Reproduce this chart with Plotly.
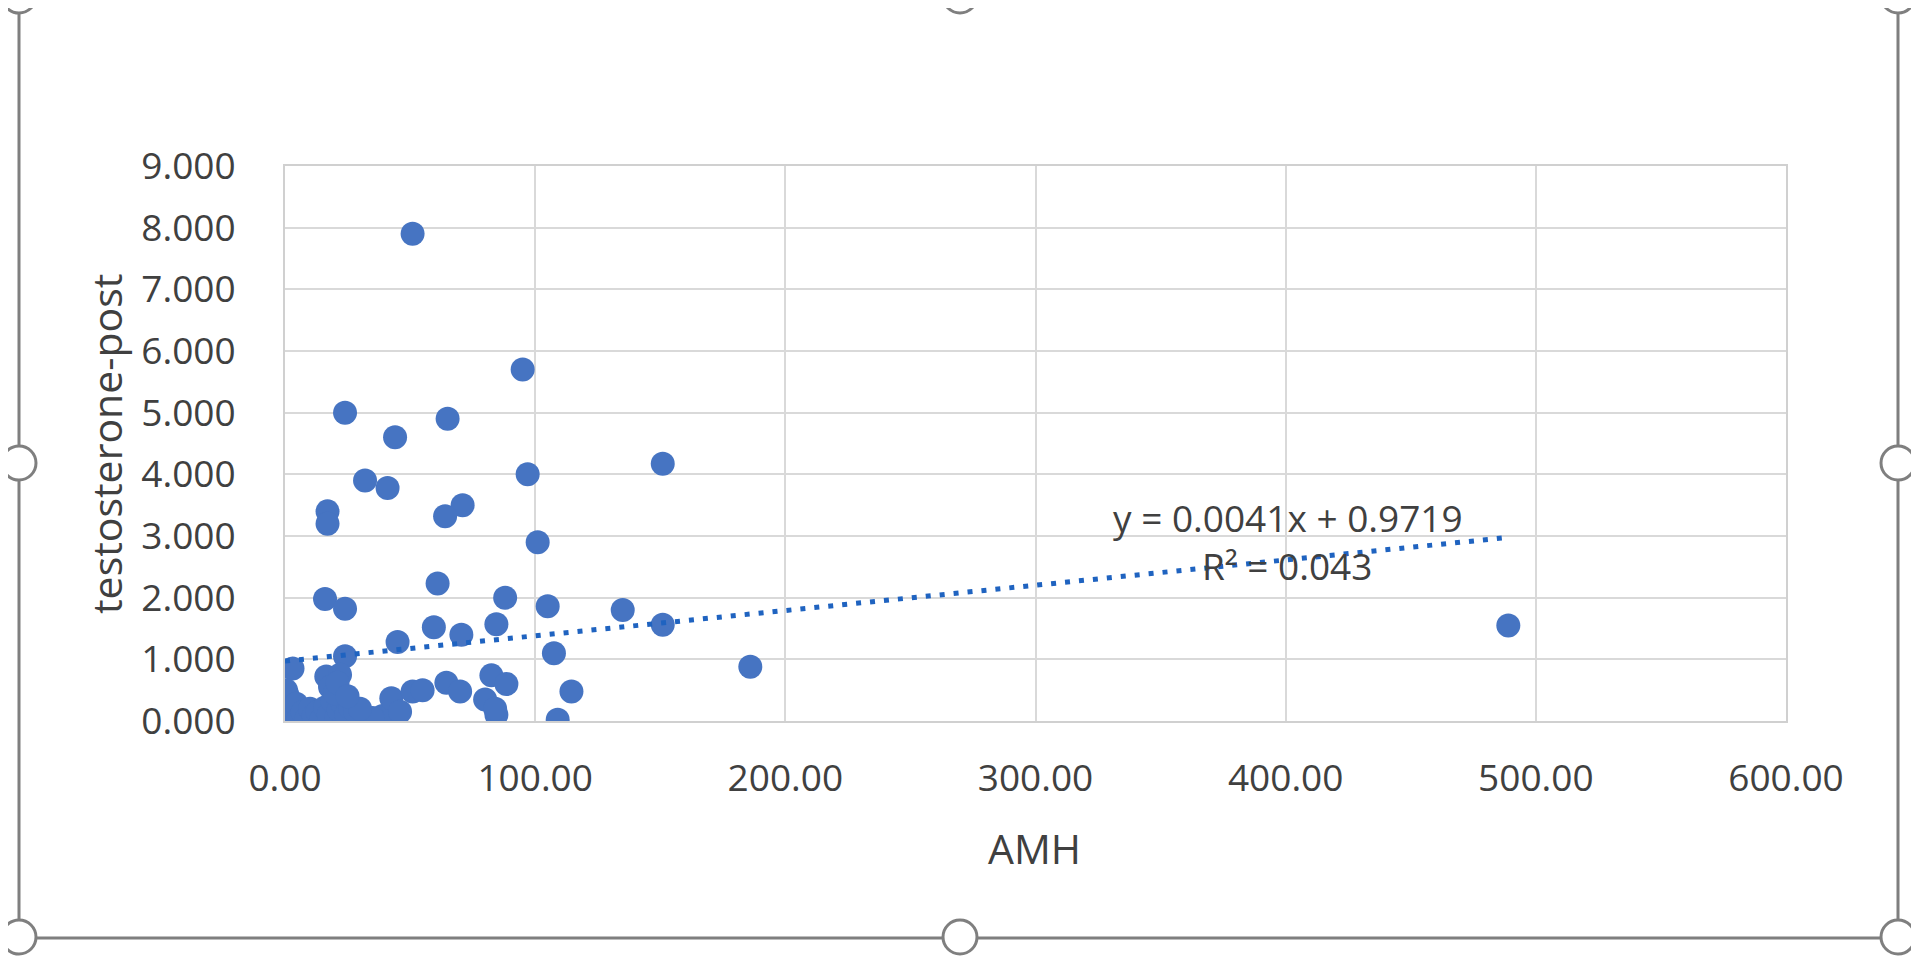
import plotly.graph_objects as go

# AMH vs testosterone-post
amh = [51, 95, 24, 65, 44, 151, 97, 32, 41, 71, 17, 17, 64, 101, 61, 16, 88, 24, 105, 135,
       59.5, 70.5, 84.5, 151, 489, 45, 107.5, 186, 3, 24, 16.5, 114.5, 109, 64.5, 70, 82.5,
       88.5, 80, 84.5, 84, 39, 42.5, 46, 51, 55, 35,
       0.5, 0.5, 0.8, 0.6, 1.0, 0.4, 1.5, 2.5, 3.5, 4.5, 5.5, 7, 8.5, 10, 11.5, 13, 14.5, 16,
       17.5, 19, 20.5, 21.5, 23, 24.5, 26, 28, 30, 18, 20, 22, 21, 25]
testosterone_post = [7.9, 5.7, 5.0, 4.9, 4.6, 4.17, 4.0, 3.9, 3.78, 3.5, 3.4, 3.2, 3.32, 2.9, 2.23, 1.98,
                     2.0, 1.82, 1.86, 1.8, 1.52, 1.4, 1.57, 1.56, 1.55, 1.28, 1.1, 0.88, 0.85, 1.05,
                     0.72, 0.48, 0.02, 0.62, 0.48, 0.74, 0.6, 0.35, 0.1, 0.2, 0.08, 0.37, 0.15, 0.48,
                     0.5, 0.05,
                     0.02, 0.12, 0.22, 0.32, 0.42, 0.5, 0.05, 0.18, 0.08, 0.28, 0.04, 0.14, 0.03, 0.2,
                     0.08, 0.15, 0.02, 0.22, 0.1, 0.32, 0.05, 0.18, 0.28, 0.1, 0.22, 0.16, 0.2, 0.55,
                     0.45, 0.75, 0.62, 0.4]

trend_slope = 0.0041
trend_intercept = 0.9719
r_squared = 0.043

x_ticks = [0, 100, 200, 300, 400, 500, 600]
y_ticks = [0, 1, 2, 3, 4, 5, 6, 7, 8, 9]

# page pixels of the plot area (the page body adds an 8px margin)
BODY = 8
W, H = 1919 - BODY, 958 - BODY
PL, PR, PT, PB = 285, 1786, 166, 721


def px(x):
    return (x - PL) / (PR - PL)


def py(y):
    return (PB - y) / (PB - PT)


trend_x = [0, max(amh)]
trend_y = [trend_slope * v + trend_intercept for v in trend_x]

fig = go.Figure()
fig.add_trace(go.Scatter(
    x=amh, y=testosterone_post, mode='markers',
    marker=dict(size=24, color='#4674C2'),
    showlegend=False, hoverinfo='x+y'
))
fig.add_trace(go.Scatter(
    x=trend_x, y=trend_y, mode='lines',
    line=dict(color='#1F63C0', width=5, dash='5px,9px'),
    showlegend=False, hoverinfo='skip'
))

font_fam = 'Open Sans, Noto Sans, sans-serif'
txt = '#404040'

fig.update_xaxes(
    range=[0, 600], tickvals=x_ticks, tickformat='.2f',
    showgrid=True, gridcolor='#d9d9d9', gridwidth=2,
    showline=True, linecolor='#d0d0d0', linewidth=2, mirror=True,
    zeroline=False, ticks='', ticklabelstandoff=24,
    tickfont=dict(size=37, color=txt, family=font_fam),
)
fig.update_yaxes(
    range=[0, 9], tickvals=y_ticks, tickformat='.3f',
    showgrid=True, gridcolor='#d9d9d9', gridwidth=2,
    showline=True, linecolor='#d0d0d0', linewidth=2, mirror=True,
    zeroline=False, ticks='', ticklabelstandoff=40,
    tickfont=dict(size=37, color=txt, family=font_fam),
)


def label(text, x, y, angle=0, size=37):
    return dict(text=text, x=px(x), y=py(y), xref='paper', yref='paper',
                xanchor='center', yanchor='middle', textangle=angle, showarrow=False,
                font=dict(size=size, color=txt, family=font_fam))


annotations = [
    label('testosterone-post', 106, 444, -90, size=41),
    label('AMH', 1034, 848, size=41),
    label('y = %.4fx + %.4f' % (trend_slope, trend_intercept), 1288, 517),
    label('R² = %.3f' % r_squared, 1287, 565),
]

# selection frame round the chart, with its handles
frame_col = '#7f7f7f'
shapes = [
    dict(type='line', x0=px(19), x1=px(19), y0=py(-10), y1=py(938)),
    dict(type='line', x0=px(1898), x1=px(1898), y0=py(-10), y1=py(938)),
    dict(type='line', x0=px(19), x1=px(1898), y0=py(938), y1=py(938)),
]
for s in shapes:
    s.update(xref='paper', yref='paper', line=dict(color=frame_col, width=3), layer='above')

r = 17
for cx, cy in [(19, -4), (960, -4), (1898, -4), (19, 463), (1898, 463),
               (19, 937), (960, 937), (1898, 937)]:
    shapes.append(dict(type='circle', xref='paper', yref='paper',
                       x0=px(cx - r), x1=px(cx + r), y0=py(cy - r), y1=py(cy + r),
                       fillcolor='white', line=dict(color=frame_col, width=3), layer='above'))

fig.update_layout(
    width=W, height=H, autosize=False,
    margin=dict(l=PL - BODY, r=W - (PR - BODY), t=PT - BODY, b=H - (PB - BODY)),
    paper_bgcolor='white', plot_bgcolor='white',
    annotations=annotations, shapes=shapes,
)

fig.write_html("out.html")
